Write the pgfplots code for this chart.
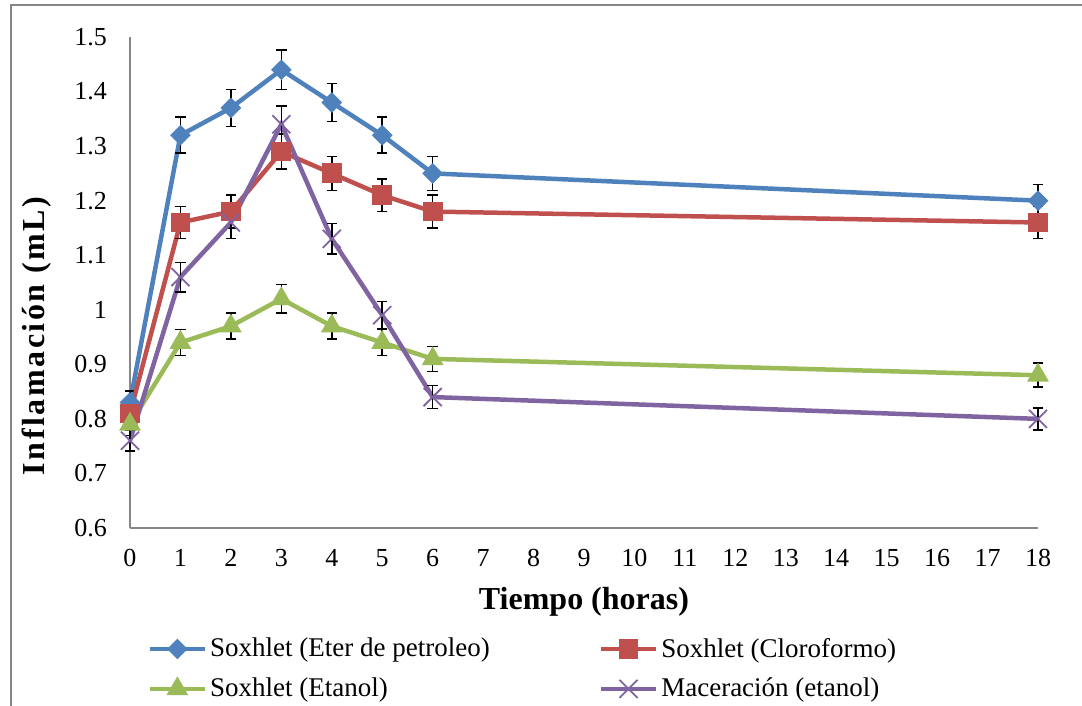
\documentclass[border=0pt]{standalone}
\usepackage{fontspec}
\setmainfont{Liberation Serif}
\newfontfamily\ytitlefont[LetterSpace=8]{Liberation Serif}
\usepackage{pgfplots}
\pgfplotsset{compat=1.18}
\definecolor{cBlue}{HTML}{4F81BD}
\definecolor{cRed}{HTML}{C0504D}
\definecolor{cGreen}{HTML}{9BBB59}
\definecolor{cPurple}{HTML}{8064A2}
\definecolor{axgray}{HTML}{868686}

\begin{document}
\begin{tikzpicture}
\begin{axis}[
  at={(65pt,89pt)}, anchor=south west,
  scale only axis, width=454pt, height=245.5pt,
  xmin=0, xmax=18, ymin=0.6, ymax=1.5,
  xtick={0,1,...,18}, ytick={0.6,0.7,...,1.5},
  axis lines=left, axis line style={-, draw=axgray, line width=0.75pt},
  major tick length=0pt,
  clip=false,
  /pgf/number format/assume math mode=true,
  tick label style={font=\fontsize{13}{15}\selectfont},
  yticklabel style={xshift=-8pt},
  xticklabel style={yshift=-7pt},
  xlabel={Tiempo (horas)},
  xlabel style={font=\fontsize{16}{19}\selectfont\bfseries, at={(axis description cs:0.5,0)}, anchor=center, yshift=-37pt},
  ylabel={Inflamación (mL)},
  ylabel style={font=\fontsize{16}{19}\selectfont\ytitlefont\bfseries, at={(axis description cs:0,0.391)}, anchor=center, yshift=46.5pt},
  legend columns=2,
  legend cell align=left,
  legend style={draw=none, fill=none, inner sep=0pt, row sep=6pt,
    font=\fontsize{13.5}{16}\selectfont,
    at={(axis description cs:0.019,-0.287)}, anchor=west,
    nodes={inner sep=1.5pt},
    /tikz/every even column/.append style={column sep=53pt}},
  legend image code/.code={\draw[mark repeat=2,mark phase=2,#1] plot coordinates {(0pt,0pt) (13.75pt,0pt) (27.5pt,0pt)};},
  error bars/error bar style={black, line width=0.75pt, solid},
  error bars/error mark options={rotate=90, mark size=2.6pt, black, line width=0.75pt},
]
\addplot[cBlue, line width=2.25pt, mark=square*, mark size=3.4pt, mark options={rotate=45, fill=cBlue, draw=cBlue, line width=0.5pt},
  error bars/.cd, y dir=both, y explicit] coordinates {
  (0,0.83) +- (0,0.021) (1,1.32) +- (0,0.033) (2,1.37) +- (0,0.034) (3,1.44) +- (0,0.036)
  (4,1.38) +- (0,0.035) (5,1.32) +- (0,0.033) (6,1.25) +- (0,0.031) (18,1.20) +- (0,0.030)};
\addlegendentry{Soxhlet (Eter de petroleo)}
\addplot[cRed, line width=2.25pt, mark=square*, mark size=4.7pt, mark options={fill=cRed, draw=cRed, line width=0.5pt},
  error bars/.cd, y dir=both, y explicit] coordinates {
  (0,0.81) +- (0,0.020) (1,1.16) +- (0,0.029) (2,1.18) +- (0,0.030) (3,1.29) +- (0,0.032)
  (4,1.25) +- (0,0.031) (5,1.21) +- (0,0.030) (6,1.18) +- (0,0.030) (18,1.16) +- (0,0.029)};
\addlegendentry{Soxhlet (Cloroformo)}
\addplot[cGreen, line width=2.25pt, mark=triangle*, mark size=5.8pt, mark options={fill=cGreen, draw=cGreen, line width=0.5pt},
  error bars/.cd, y dir=both, y explicit] coordinates {
  (0,0.79) +- (0,0.020) (1,0.94) +- (0,0.024) (2,0.97) +- (0,0.024) (3,1.02) +- (0,0.026)
  (4,0.97) +- (0,0.024) (5,0.94) +- (0,0.024) (6,0.91) +- (0,0.023) (18,0.88) +- (0,0.022)};
\addlegendentry{Soxhlet (Etanol)}
\addplot[cPurple, line width=2.25pt, mark=x, mark size=6.4pt, mark options={draw=cPurple, line width=0.9pt},
  error bars/.cd, y dir=both, y explicit] coordinates {
  (0,0.76) +- (0,0.019) (1,1.06) +- (0,0.027) (2,1.16) +- (0,0.029) (3,1.34) +- (0,0.034)
  (4,1.13) +- (0,0.028) (5,0.99) +- (0,0.025) (6,0.84) +- (0,0.021) (18,0.80) +- (0,0.020)};
\addlegendentry{Maceración (etanol)}
\end{axis}
\draw[axgray, line width=0.75pt] (5.5pt,-2pt) -- (5.5pt,350.5pt) -- (545pt,350.5pt);
\pgfresetboundingbox
\path[use as bounding box] (0,0) rectangle (541pt,353pt);
\end{tikzpicture}
\end{document}
